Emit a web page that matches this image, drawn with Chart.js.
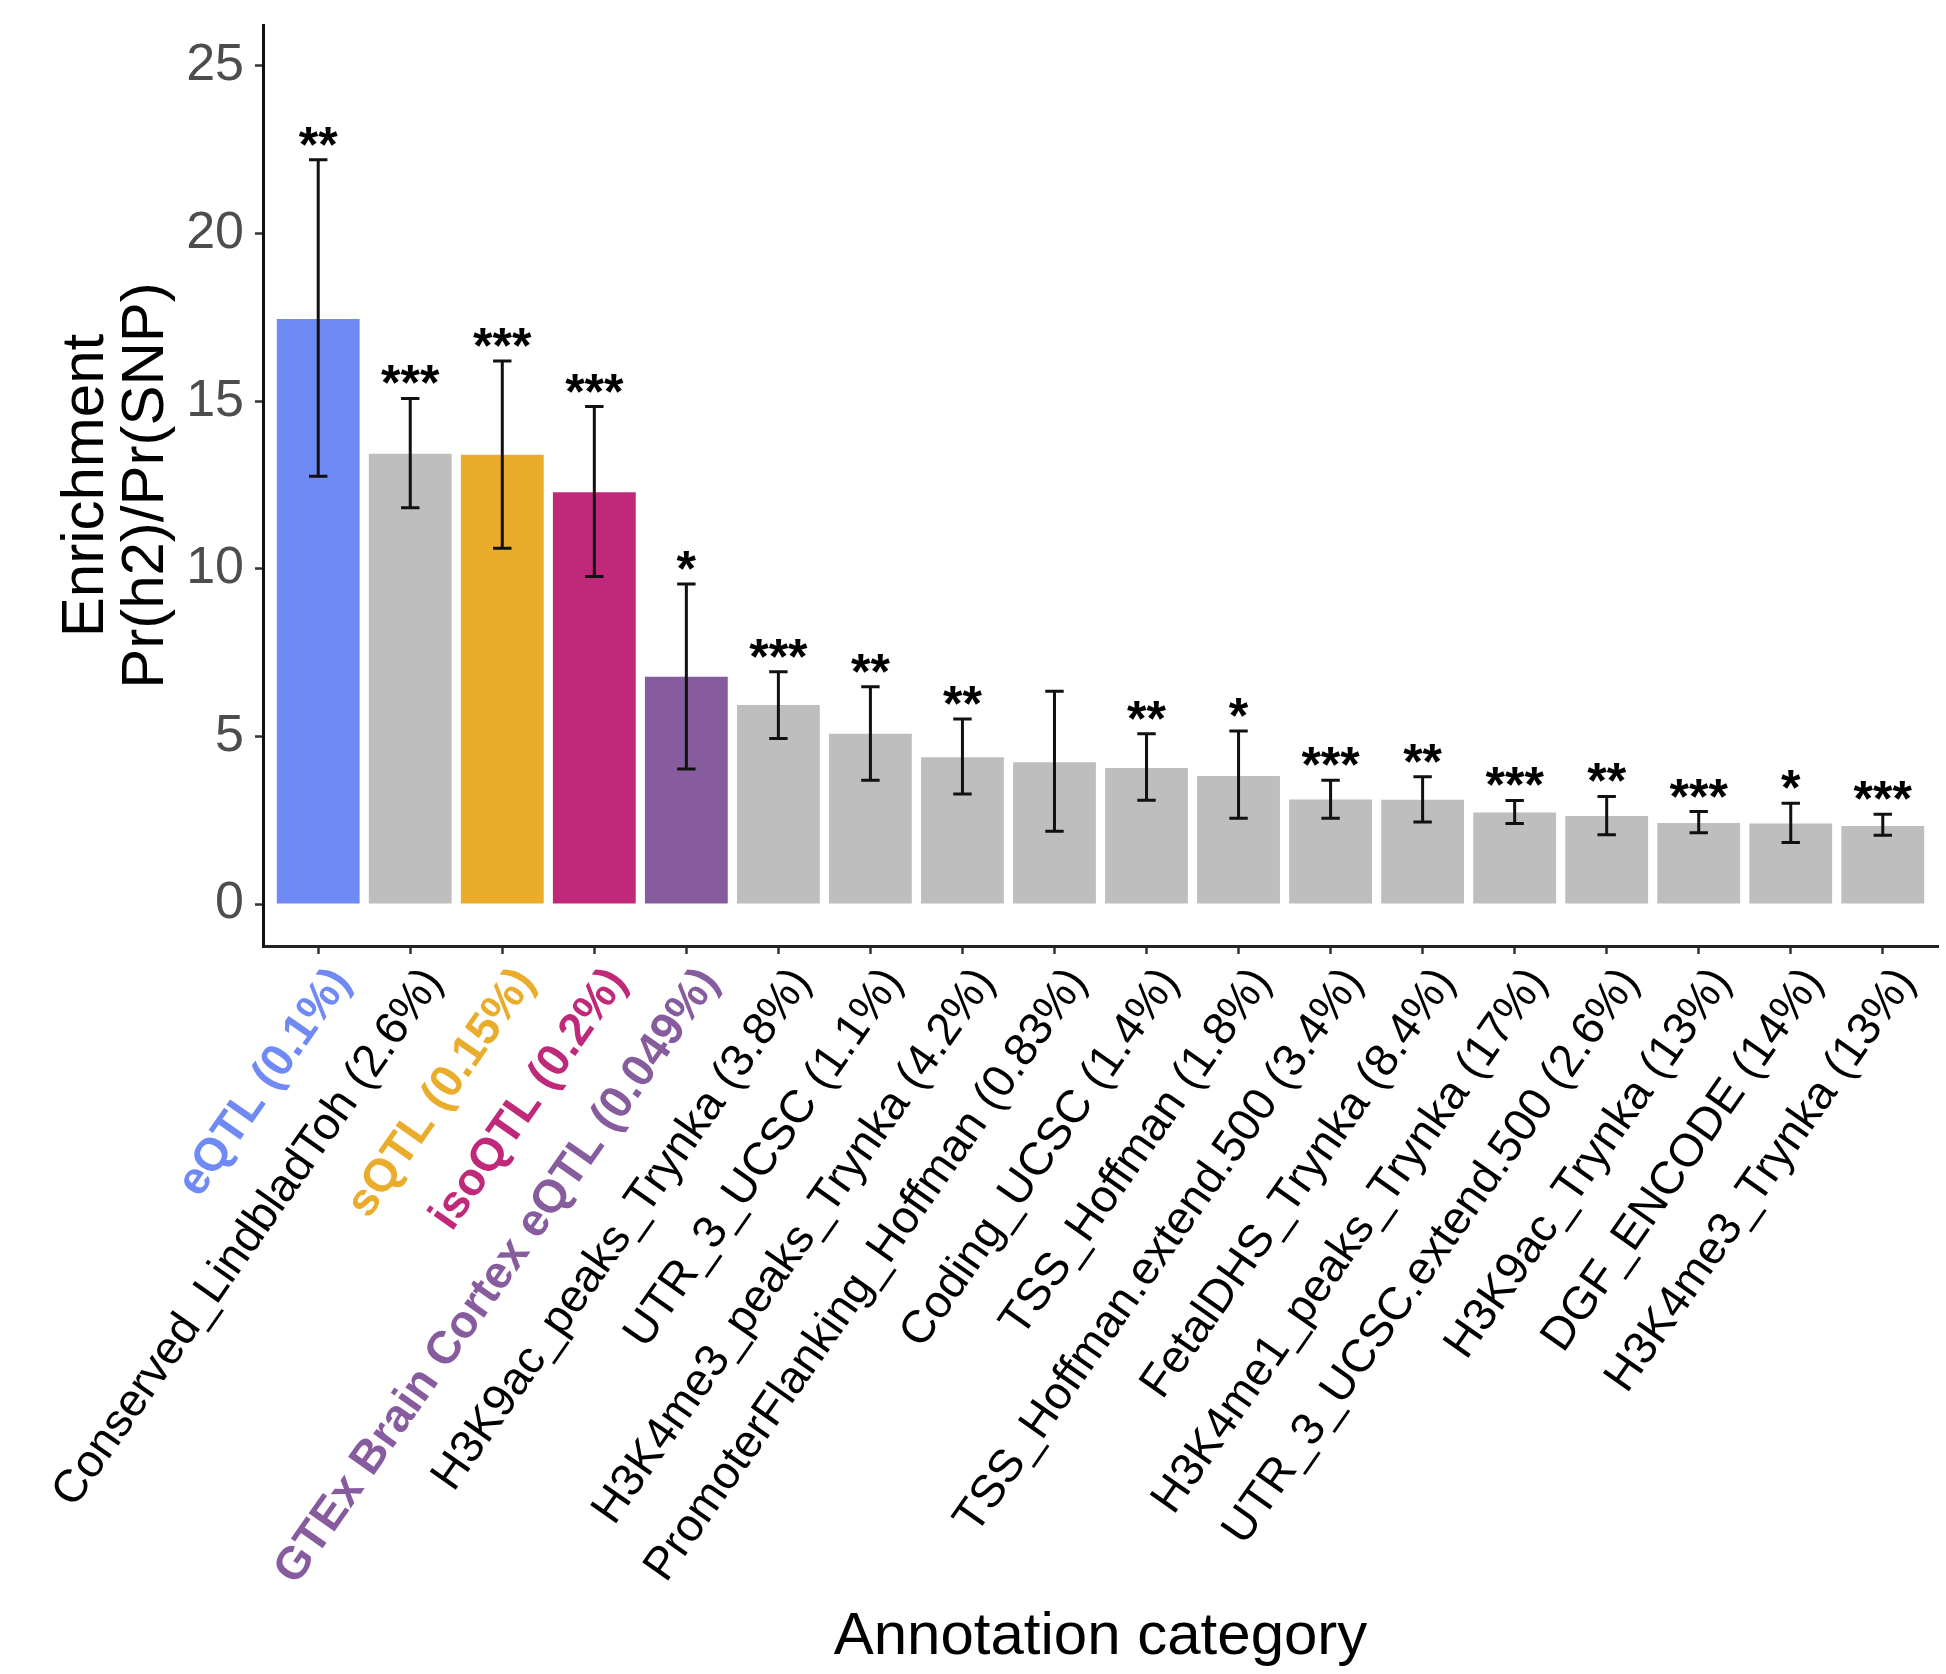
<!DOCTYPE html>
<html>
<head>
<meta charset="utf-8">
<script src="https://cdn.jsdelivr.net/npm/chart.js@4.4.1/dist/chart.umd.min.js"></script>
<style>
  body { margin: 0; background: #fff; }
</style>
</head>
<body>
<canvas id="myChart" width="1946" height="1674"></canvas>
<script>
var categories = ["eQTL (0.1%)", "Conserved_LindbladToh (2.6%)", "sQTL (0.15%)", "isoQTL (0.2%)",
  "GTEx Brain Cortex eQTL (0.049%)", "H3K9ac_peaks_Trynka (3.8%)", "UTR_3_UCSC (1.1%)",
  "H3K4me3_peaks_Trynka (4.2%)", "PromoterFlanking_Hoffman (0.83%)", "Coding_UCSC (1.4%)",
  "TSS_Hoffman (1.8%)", "TSS_Hoffman.extend.500 (3.4%)", "FetalDHS_Trynka (8.4%)",
  "H3K4me1_peaks_Trynka (17%)", "UTR_3_UCSC.extend.500 (2.6%)", "H3K9ac_Trynka (13%)",
  "DGF_ENCODE (14%)", "H3K4me3_Trynka (13%)"];
var enrichment = [17.45, 13.43, 13.4, 12.28, 6.78, 5.94, 5.08, 4.38, 4.23, 4.06, 3.82, 3.12, 3.11, 2.73, 2.63, 2.42, 2.4, 2.33];
var errLow = [12.76, 11.82, 10.61, 9.77, 4.03, 4.94, 3.69, 3.28, 2.17, 3.1, 2.56, 2.56, 2.45, 2.4, 2.07, 2.13, 1.84, 2.05];
var errHigh = [22.2, 15.08, 16.2, 14.84, 9.55, 6.93, 6.48, 5.52, 6.35, 5.08, 5.16, 3.69, 3.8, 3.09, 3.21, 2.76, 3.01, 2.68];
var stars = ["**", "***", "***", "***", "*", "***", "**", "**", "", "**", "*", "***", "**", "***", "**", "***", "*", "***"];
var yTicks = [0, 5, 10, 15, 20, 25];

// highlighted QTL categories get their own colour, the rest are grey
var highlight = { 0: '#6F8AF5', 2: '#E9AC2B', 3: '#C0287A', 4: '#875C9E' };
var grey = '#BEBEBE';
var font = "'Liberation Sans', Arial, sans-serif";

var barColors = categories.map(function (c, i) { return highlight[i] || grey; });

var errorBars = {
  id: 'errorBars',
  afterDatasetsDraw: function (chart) {
    var ctx = chart.ctx, x = chart.scales.x, y = chart.scales.y;
    var half = (x.getPixelForValue(1) - x.getPixelForValue(0)) * 0.1;
    ctx.save();
    ctx.strokeStyle = '#111';
    ctx.lineWidth = 3;
    ctx.fillStyle = '#000';
    ctx.font = 'bold 50px ' + font;
    ctx.textAlign = 'center';
    ctx.textBaseline = 'alphabetic';
    for (var i = 0; i < categories.length; i++) {
      var px = x.getPixelForValue(i);
      var top = y.getPixelForValue(errHigh[i]);
      var bot = y.getPixelForValue(errLow[i]);
      ctx.beginPath();
      ctx.moveTo(px, top); ctx.lineTo(px, bot);
      ctx.moveTo(px - half, top); ctx.lineTo(px + half, top);
      ctx.moveTo(px - half, bot); ctx.lineTo(px + half, bot);
      ctx.stroke();
      if (stars[i]) {
        var m = ctx.measureText(stars[i]);
        ctx.fillText(stars[i], px, top - 14 - m.actualBoundingBoxDescent);
      }
    }
    ctx.restore();
  }
};

var ctx = document.getElementById('myChart').getContext('2d');
var myChart = new Chart(ctx, {
  type: 'bar',
  data: {
    datasets: [{
      data: enrichment.map(function (v, i) { return { x: i, y: v }; }),
      backgroundColor: barColors,
      borderWidth: 0,
      categoryPercentage: 1,
      barPercentage: 0.9
    }]
  },
  plugins: [errorBars],
  options: {
    responsive: false,
    animation: false,
    layout: { padding: { top: 25, right: 8, left: 0, bottom: 0 } },
    plugins: { legend: { display: false }, tooltip: { enabled: false } },
    scales: {
      x: {
        type: 'linear',
        min: -0.6,
        max: 17.6,
        offset: false,
        afterBuildTicks: function (s) { s.ticks = categories.map(function (c, i) { return { value: i }; }); },
        afterFit: function (s) { s.height = 728; s.paddingLeft = 0; s.paddingRight = 0; },
        grid: { offset: false, drawOnChartArea: false, tickLength: 8, tickColor: '#333', tickWidth: 2.5 },
        border: { color: '#222', width: 3 },
        ticks: {
          autoSkip: false,
          minRotation: 55,
          maxRotation: 55,
          padding: 4,
          labelOffset: 23,
          callback: function (v) { return categories[v]; },
          color: function (c) { return highlight[c.index] || '#000'; },
          font: function (c) { return { family: font, size: 46, weight: highlight[c.index] ? 'bold' : 'normal' }; }
        },
        title: {
          display: true,
          text: 'Annotation category',
          color: '#000',
          font: { family: font, size: 60 },
          padding: { top: 0, bottom: 1 }
        }
      },
      y: {
        min: -1.25,
        max: 26.22,
        afterBuildTicks: function (s) { s.ticks = yTicks.map(function (v) { return { value: v }; }); },
        afterFit: function (s) { s.width = 263; s.paddingTop = 0; s.paddingBottom = 0; },
        grid: { drawOnChartArea: false, tickLength: 8, tickColor: '#333', tickWidth: 2.5 },
        border: { color: '#111', width: 3 },
        ticks: { color: '#4D4D4D', font: { family: font, size: 52 }, padding: 11 },
        title: {
          display: true,
          text: ['Enrichment', 'Pr(h2)/Pr(SNP)'],
          color: '#000',
          font: { family: font, size: 60, lineHeight: 1 },
          padding: { top: 56, bottom: 0 }
        }
      }
    }
  }
});
</script>
</body>
</html>
